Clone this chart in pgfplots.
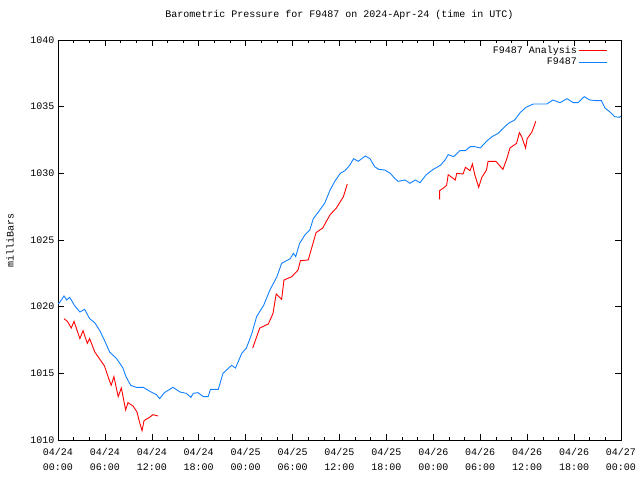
\documentclass[border=0pt]{standalone}
\usepackage{fontspec}
\setmainfont{Liberation Mono}
\usepackage{pgfplots}
\pgfplotsset{compat=1.18}
\definecolor{redl}{RGB}{255,0,0}
\definecolor{bluel}{RGB}{16,128,255}
\begin{document}
\begin{tikzpicture}
\useasboundingbox (-58pt,-40pt) rectangle (582pt,440pt);
\begin{axis}[
  scale only axis, width=563pt, height=400pt,
  xmin=0, xmax=72, ymin=1010, ymax=1040,
  xtick={0,6,...,72},
  xticklabels={04/24\\00:00,04/24\\06:00,04/24\\12:00,04/24\\18:00,04/25\\00:00,04/25\\06:00,04/25\\12:00,04/25\\18:00,04/26\\00:00,04/26\\06:00,04/26\\12:00,04/26\\18:00,04/27\\00:00},
  xticklabel style={align=center, font=\fontsize{10}{15}\selectfont, yshift=-5pt},
  ytick={1010,1015,...,1040},
  yticklabel style={font=\fontsize{10}{12}\selectfont, xshift=0pt},
  /pgf/number format/assume math mode=true,
  /pgf/number format/1000 sep={},
  minor x tick num=2,
  tick align=inside, major tick length=6pt, minor tick length=3pt,
  tick style={black, line width=0.6pt},
  axis line style={line width=0.8pt},
  title={Barometric Pressure for F9487 on 2024-Apr-24 (time in UTC)},
  title style={font=\fontsize{10}{12}\selectfont, at={(0.5,1)}, anchor=base, yshift=16pt, inner sep=0pt},
  ylabel={milliBars},
  every axis y label/.style={at={(axis description cs:-0.085,0.5)}, rotate=90, anchor=center, font=\fontsize{10}{12}\selectfont},
  legend style={draw=none, fill=none, at={(1,1)}, anchor=north east, xshift=-10pt, yshift=-2pt,
    font=\fontsize{10}{12}\selectfont, row sep=-1pt},
  legend plot pos=right,
  legend cell align=right,
  legend image code/.code={\draw[#1] (0pt,0pt) -- (28pt,0pt);},
]
\addplot[redl, line width=0.9pt] coordinates {
(0.77,1019.1)(1.2,1018.9)(1.7,1018.4)(2.05,1018.9)(2.8,1017.6)(3.2,1018.2)(3.75,1017.25)(4.05,1017.6)
(4.7,1016.6)(5.3,1016.1)(5.95,1015.55)(6.4,1014.75)(6.8,1014.1)(7.15,1014.75)(7.7,1013.25)(8.1,1013.9)
(8.65,1012.25)(8.95,1012.8)(9.6,1012.55)(10.1,1012.1)(10.4,1011.4)(10.75,1010.7)(11.0,1011.45)
(11.7,1011.7)(12.15,1011.9)(12.8,1011.8)};
\addlegendentry{F9487 Analysis}
\addplot[bluel, line width=0.9pt] coordinates {
(0.0,1020.2)(0.2,1020.3)(0.77,1020.8)(1.1,1020.5)(1.5,1020.7)(2.1,1020.1)(2.8,1019.6)(3.4,1019.8)
(4.05,1019.1)(4.7,1018.8)(5.3,1018.25)(6.0,1017.4)(6.6,1016.6)(7.5,1016.1)(8.3,1015.4)(8.7,1014.75)
(9.3,1014.1)(10.0,1013.95)(10.9,1013.95)(11.9,1013.6)(12.6,1013.4)(13.0,1013.1)(13.6,1013.55)
(14.7,1013.95)(15.6,1013.6)(16.4,1013.5)(17.0,1013.2)(17.3,1013.5)(17.9,1013.55)(18.6,1013.25)
(19.2,1013.25)(19.5,1013.8)(20.5,1013.8)(21.1,1015.0)(22.2,1015.6)(22.7,1015.4)(23.5,1016.5)
(24.1,1016.9)(24.8,1018.0)(25.4,1019.25)(26.3,1020.1)(27.1,1021.25)(28.0,1022.25)(28.6,1023.25)
(29.7,1023.6)(30.1,1024.0)(30.4,1023.75)(30.9,1024.75)(31.6,1025.4)(32.2,1025.75)(32.65,1026.6)
(33.3,1027.1)(34.1,1027.75)(34.8,1028.75)(35.4,1029.4)(36.1,1030.0)(36.7,1030.2)(37.3,1030.6)
(37.8,1031.1)(38.4,1030.9)(39.3,1031.3)(39.9,1031.1)(40.5,1030.5)(41.0,1030.3)(41.8,1030.25)
(42.5,1030.0)(43.1,1029.6)(43.5,1029.4)(44.4,1029.5)(45.0,1029.25)(45.7,1029.5)(46.3,1029.3)
(47.1,1029.9)(48.0,1030.3)(48.9,1030.6)(49.5,1031.0)(49.9,1031.4)(50.6,1031.25)(51.4,1031.7)
(52.1,1031.7)(52.7,1032.0)(53.3,1032.0)(54.0,1031.9)(54.8,1032.4)(55.5,1032.75)(56.3,1033.0)
(56.7,1033.25)(57.6,1033.75)(58.4,1034.0)(59.1,1034.55)(59.85,1034.95)(60.8,1035.2)(61.6,1035.2)
(62.5,1035.2)(63.3,1035.5)(64.2,1035.3)(65.1,1035.6)(65.9,1035.3)(66.5,1035.3)(67.3,1035.75)
(68.0,1035.5)(68.9,1035.45)(69.5,1035.45)(69.95,1034.9)(70.6,1034.6)(71.2,1034.25)(71.8,1034.2)(72,1034.3)};
\addlegendentry{F9487}
\addplot[redl, line width=0.9pt, forget plot] coordinates {
(24.9,1016.9)(25.8,1018.4)(26.9,1018.7)(27.5,1019.5)(27.9,1020.95)(28.6,1020.55)(28.9,1022.0)
(29.9,1022.25)(30.7,1022.75)(31.0,1023.45)(32.0,1023.5)(33.0,1025.55)(33.85,1025.9)(34.8,1026.9)
(35.6,1027.4)(36.5,1028.25)(37.0,1029.2)};
\addplot[redl, line width=0.9pt, forget plot] coordinates {
(48.8,1028.05)(48.8,1028.7)(49.3,1028.9)(49.7,1029.1)(49.9,1029.9)(50.8,1029.5)(51.0,1030.0)
(51.8,1029.95)(52.1,1030.45)(52.7,1030.2)(53.0,1030.7)(53.3,1029.9)(53.8,1028.95)(54.2,1029.7)
(54.8,1030.25)(55.0,1030.9)(56.0,1030.9)(56.9,1030.3)(57.4,1031.1)(57.8,1031.9)(58.65,1032.25)
(59.0,1033.05)(59.3,1032.75)(59.8,1031.9)(60.0,1032.6)(60.6,1033.1)(61.1,1033.9)};
\end{axis}
\end{tikzpicture}
\end{document}
